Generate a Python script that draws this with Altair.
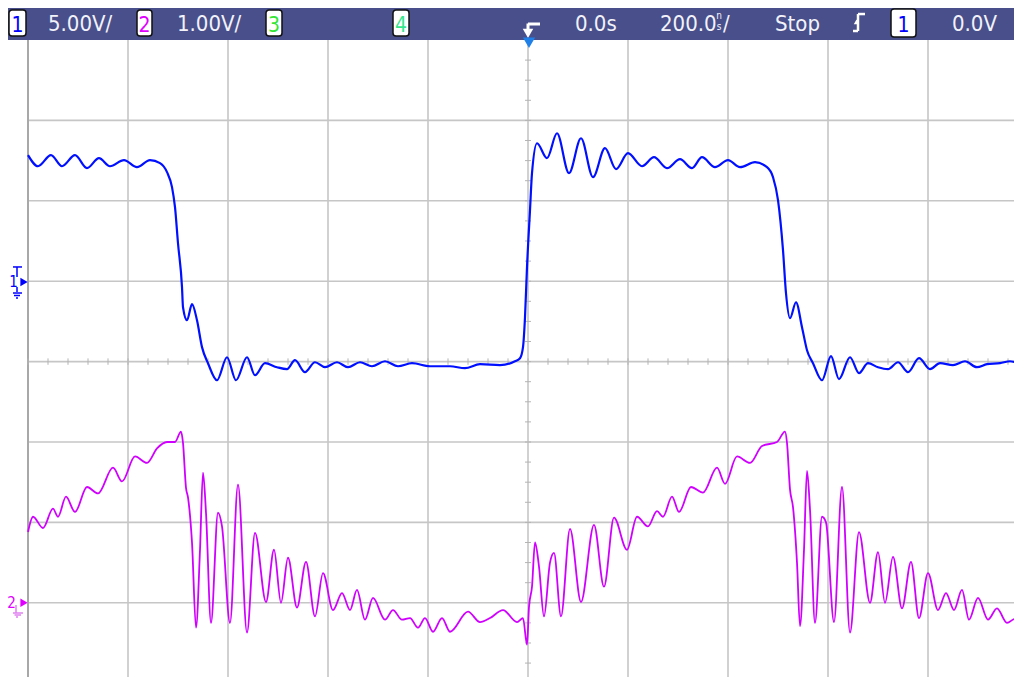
import altair as alt
import pandas as pd

# ---------------- waveform data (time in ns, voltage in V) ----------------
# Channel 1: 5.00 V/div, ground marker one division above centre
BLUE_T = [-1000, -980, -954, -932, -906, -882, -858, -836, -808, -782, -756, -736, -722, -712,
          -706, -700, -692, -690, -682, -672, -662, -652, -640, -622, -602, -584, -562, -546,
          -526, -502, -482, -466, -446, -426, -406, -382, -360, -336, -312, -286, -260, -232,
          -196, -156, -126, -96, -56, -26, -16, -10, -6, -2, 4, 8, 18, 38, 58, 82, 106, 130,
          154, 176, 200, 228, 252, 278, 304, 328, 348, 374, 400, 424, 454, 478, 490, 500, 510,
          516, 524, 536, 548, 558, 570, 588, 606, 622, 644, 662, 680, 700, 720, 740, 760, 782,
          804, 824, 850, 874, 898, 918, 944, 964, 988]
BLUE_V = [7.84, 7.15, 7.84, 7.15, 7.84, 7.03, 7.65, 7.15, 7.53, 7.09, 7.53, 7.34, 6.78, 5.85,
          4.60, 2.36, -0.37, -1.62, -2.43, -1.43, -2.43, -4.10, -5.10, -6.16, -4.73, -6.16,
          -4.73, -5.85, -5.10, -5.35, -5.47, -4.91, -5.66, -5.04, -5.35, -5.04, -5.35, -5.04,
          -5.29, -4.98, -5.29, -5.10, -5.29, -5.29, -5.41, -5.16, -5.22, -4.98, -4.79, -4.10,
          -2.24, 0.87, 4.42, 6.72, 8.58, 7.65, 9.20, 6.72, 8.89, 6.47, 8.27, 6.97, 7.96, 7.15,
          7.71, 7.03, 7.59, 7.03, 7.71, 7.09, 7.53, 7.09, 7.40, 7.09, 6.47, 5.04, 1.93, -0.75,
          -2.30, -1.31, -2.86, -4.29, -5.10, -6.16, -4.66, -6.09, -4.73, -5.72, -5.10, -5.35,
          -5.47, -5.04, -5.66, -4.79, -5.47, -5.10, -5.22, -4.98, -5.35, -5.16, -5.10, -4.98,
          -5.16]

# Channel 2: 1.00 V/div, ground marker three divisions below centre
MAG_T = [-1000, -990, -970, -950, -940, -924, -906, -882, -860, -830, -812, -786, -762, -742,
         -722, -706, -694, -690, -684, -680, -672, -664, -656, -650, -644, -634, -620, -612,
         -596, -580, -562, -546, -524, -508, -494, -480, -462, -444, -426, -410, -390, -372,
         -356, -342, -326, -310, -286, -270, -252, -236, -220, -206, -190, -172, -156, -120,
         -96, -76, -50, -22, -10, -2, 2, 8, 14, 22, 32, 44, 52, 66, 84, 106, 132, 152, 172,
         198, 218, 240, 258, 270, 288, 302, 326, 350, 378, 394, 418, 444, 468, 498, 514, 518,
         524, 530, 538, 544, 552, 558, 564, 574, 588, 596, 612, 628, 644, 662, 684, 700, 714,
         730, 748, 766, 782, 800, 820, 836, 852, 868, 882, 900, 920, 938, 958, 974, 988]
MAG_V = [0.88, 1.07, 0.93, 1.17, 1.07, 1.32, 1.13, 1.44, 1.36, 1.68, 1.51, 1.82, 1.74, 1.92,
         2.00, 2.00, 2.13, 1.99, 1.43, 1.31, 0.75, -0.31, 0.66, 1.62, 1.12, -0.25, 1.12, 0.95,
         -0.25, 1.47, -0.37, 0.87, 0.01, 0.66, 0.00, 0.56, -0.06, 0.51, -0.17, 0.37, -0.09,
         0.12, -0.09, 0.16, -0.21, 0.06, -0.21, -0.09, -0.21, -0.19, -0.31, -0.19, -0.36,
         -0.19, -0.36, -0.11, -0.24, -0.19, -0.09, -0.24, -0.19, -0.52, -0.05, 0.20, 0.75,
         0.45, -0.17, 0.50, 0.62, -0.17, 0.92, 0.01, 0.97, 0.20, 1.06, 0.66, 1.07, 0.95, 1.14,
         1.07, 1.32, 1.13, 1.44, 1.37, 1.68, 1.48, 1.82, 1.74, 1.95, 2.00, 2.13, 1.99, 1.41,
         1.19, 0.50, -0.29, 0.66, 1.64, 1.16, -0.25, 1.07, 1.00, -0.24, 1.44, -0.37, 0.88,
         0.00, 0.63, 0.00, 0.57, -0.07, 0.51, -0.19, 0.37, -0.09, 0.12, -0.09, 0.16, -0.21,
         0.06, -0.21, -0.07, -0.25, -0.20, -0.30]

CH1_VDIV, CH1_OFFSET = 5.0, 1.0
CH2_VDIV, CH2_OFFSET = 1.0, -3.0

# graticule (200 ns/div horizontally, divisions vertically)
GRID_T = [-1000, -800, -600, -400, -200, 0, 200, 400, 600, 800]
GRID_DIV = [-3, -2, -1, 0, 1, 2, 3]
MINOR_T = list(range(-1000, 1000, 40))
MINOR_DIV = [d / 4 for d in range(-15, 16)]

# status bar
HEADER_TEXT = ["5.00V/", "1.00V/", "0.0s", "200.0", "/", "Stop", "0.0V"]
HEADER_T = [-960, -702, 94, 264, 390, 494, 848]
SMALL_TEXT = ["n", "s"]
SMALL_T = [382, 382]
SMALL_D = [4.255, 4.130]
BOX_LABEL = ["1", "2", "3", "4", "1"]
BOX_COLOR = ["#0000ff", "#e000ff", "#33e633", "#33e68c", "#0000ff"]
BOX_T1 = [-1038, -782, -524, -270, 726]
BOX_T2 = [-1004, -752, -492, -238, 776]
BOX_D1 = [4.373, 4.373, 4.373, 4.373, 4.386]
BOX_D2 = [4.050, 4.050, 4.050, 4.050, 4.037]

W, H = 1006, 669
X_DOMAIN = [-1040, -1040 + 2 * W]
Y_DOMAIN = [-3.923, 4.398]
FONT = "DejaVu Sans Condensed, Liberation Sans Narrow, DejaVu Sans, sans-serif"
GRID_COL = "#c6c6c6"
HEAD_COL = "#484f8a"

xs = alt.Scale(domain=X_DOMAIN, nice=False, zero=False)
ys = alt.Scale(domain=Y_DOMAIN, nice=False, zero=False)


def X(f):
    return alt.X(f, type="quantitative", scale=xs, axis=None)


def Y(f):
    return alt.Y(f, type="quantitative", scale=ys, axis=None)


layers = []

# vertical grid lines
vg = pd.DataFrame({"t": GRID_T[1:], "d1": Y_DOMAIN[0], "d2": 4.0})
layers.append(alt.Chart(vg).mark_rule(color=GRID_COL, strokeWidth=1.6).encode(
    x=X("t"), y=Y("d1"), y2="d2"))
# horizontal grid lines
hg = pd.DataFrame({"d": GRID_DIV, "t1": -1000, "t2": X_DOMAIN[1]})
layers.append(alt.Chart(hg).mark_rule(color=GRID_COL, strokeWidth=1.6).encode(
    y=Y("d"), x=X("t1"), x2="t2"))
# left frame line
lf = pd.DataFrame({"t": [-1000], "d1": [Y_DOMAIN[0]], "d2": [4.0]})
layers.append(alt.Chart(lf).mark_rule(color="#a8a8a8", strokeWidth=2).encode(
    x=X("t"), y=Y("d1"), y2="d2"))
# minor ticks on centre axes
mt = pd.DataFrame({"t": MINOR_T, "d1": -0.04, "d2": 0.04})
layers.append(alt.Chart(mt).mark_rule(color="#b4b4b4", strokeWidth=1).encode(
    x=X("t"), y=Y("d1"), y2="d2"))
md = pd.DataFrame({"d": MINOR_DIV, "t1": -6, "t2": 6})
layers.append(alt.Chart(md).mark_rule(color="#b4b4b4", strokeWidth=1).encode(
    y=Y("d"), x=X("t1"), x2="t2"))

# traces
blue = pd.DataFrame({"t": BLUE_T, "d": [v / CH1_VDIV + CH1_OFFSET for v in BLUE_V],
                     "i": list(range(len(BLUE_T)))})
mag = pd.DataFrame({"t": MAG_T, "d": [v / CH2_VDIV + CH2_OFFSET for v in MAG_V],
                    "i": list(range(len(MAG_T)))})
layers.append(alt.Chart(mag).mark_line(color="#d000ff", strokeWidth=1.8, clip=True,
                                       interpolate="monotone").encode(
    x=X("t"), y=Y("d"), order="i:Q"))
layers.append(alt.Chart(blue).mark_line(color="#0010ff", strokeWidth=2.2, clip=True,
                                        interpolate="monotone").encode(
    x=X("t"), y=Y("d"), order="i:Q"))

# status bar
hb = pd.DataFrame({"t1": [X_DOMAIN[0]], "t2": [X_DOMAIN[1]], "d1": [4.0], "d2": [Y_DOMAIN[1]]})
layers.append(alt.Chart(hb).mark_rect(color=HEAD_COL).encode(
    x=X("t1"), x2="t2", y=Y("d1"), y2="d2"))
bx = pd.DataFrame({"t1": BOX_T1, "t2": BOX_T2, "d1": BOX_D1, "d2": BOX_D2,
                   "tc": [(a + b) / 2 for a, b in zip(BOX_T1, BOX_T2)],
                   "lab": BOX_LABEL, "col": BOX_COLOR})
layers.append(alt.Chart(bx).mark_rect(fill="white", stroke="#111111", strokeWidth=1.5,
                                      cornerRadius=3).encode(
    x=X("t1"), x2="t2", y=Y("d1"), y2="d2"))
layers.append(alt.Chart(bx).mark_text(font=FONT, fontSize=21, baseline="alphabetic",
                                      align="center").encode(
    x=X("tc"), y=alt.Y("ty:Q", scale=ys, axis=None), text="lab:N",
    color=alt.Color("col:N", scale=None)).transform_calculate(ty="4.096"))
ht = pd.DataFrame({"t": HEADER_T, "lab": HEADER_TEXT, "d": 4.118})
layers.append(alt.Chart(ht).mark_text(font=FONT, fontSize=22, baseline="alphabetic",
                                      align="left", color="#f2f2fa").encode(
    x=X("t"), y=Y("d"), text="lab:N"))
st = pd.DataFrame({"t": SMALL_T, "lab": SMALL_TEXT, "d": SMALL_D})
layers.append(alt.Chart(st).mark_text(font=FONT, fontSize=10, baseline="alphabetic",
                                      align="center", color="#f2f2fa").encode(
    x=X("t"), y=Y("d"), text="lab:N"))

# trigger position icon (white bent arrow) and blue marker
tr = pd.DataFrame({"t1": [0, 0], "t2": [24, 0], "d1": [4.199, 4.205], "d2": [4.199, 4.115]})
layers.append(alt.Chart(tr).mark_rule(color="white", strokeWidth=3).encode(
    x=X("t1"), x2="t2", y=Y("d1"), y2="d2"))
ta = pd.DataFrame({"t": [0], "d": [4.082]})
layers.append(alt.Chart(ta).mark_point(shape="triangle-down", filled=True, size=110,
                                       color="white", opacity=1).encode(x=X("t"), y=Y("d")))
tm = pd.DataFrame({"t": [2], "d": [3.965]})
layers.append(alt.Chart(tm).mark_point(shape="triangle-down", filled=True, size=150,
                                       color="#1f80e8", opacity=1).encode(x=X("t"), y=Y("d")))

# trigger slope symbol
ed = pd.DataFrame({"t1": [650, 660, 660], "t2": [660, 660, 674],
                   "d1": [4.112, 4.112, 4.323], "d2": [4.112, 4.323, 4.323]})
layers.append(alt.Chart(ed).mark_rule(color="white", strokeWidth=2.5).encode(
    x=X("t1"), x2="t2", y=Y("d1"), y2="d2"))
ea = pd.DataFrame({"t": [657], "d": [4.225]})
layers.append(alt.Chart(ea).mark_point(shape="triangle-up", filled=True, size=30,
                                       color="white", opacity=1).encode(x=X("t"), y=Y("d")))

# channel ground markers on the left edge
gm = pd.DataFrame({
    "t1": [-1030, -1022, -1022, -1030, -1028, -1024,
           -1024, -1030, -1027, -1024],
    "t2": [-1012, -1022, -1022, -1012, -1016, -1020,
           -1024, -1010, -1014, -1020],
    "d1": [1.177, 1.177, 0.928, 0.853, 0.822, 0.791,
           -3.027, -3.127, -3.152, -3.177],
    "d2": [1.177, 1.052, 0.866, 0.853, 0.822, 0.791,
           -3.127, -3.127, -3.152, -3.177],
    "col": ["#0000ff"] * 6 + ["#e080f0"] * 4})
layers.append(alt.Chart(gm).mark_rule(strokeWidth=1.5).encode(
    x=X("t1"), x2="t2", y=Y("d1"), y2="d2", color=alt.Color("col:N", scale=None)))
gt = pd.DataFrame({"t": [-1008, -1008], "d": [0.99, -3.0], "col": ["#0000ff", "#e000ff"]})
layers.append(alt.Chart(gt).mark_point(shape="triangle-right", filled=True, size=70,
                                       opacity=1).encode(
    x=X("t"), y=Y("d"), color=alt.Color("col:N", scale=None)))
gl = pd.DataFrame({"t": [-1029, -1033], "d": [0.93, -3.07], "lab": ["1", "2"],
                   "col": ["#0000ff", "#e000ff"]})
layers.append(alt.Chart(gl).mark_text(font=FONT, fontSize=15, baseline="alphabetic",
                                      align="center").encode(
    x=X("t"), y=Y("d"), text="lab:N", color=alt.Color("col:N", scale=None)))

chart = alt.layer(*layers).properties(
    width=W, height=H, padding=0, autosize="none", background="white"
).configure_view(stroke=None)

chart.save("out.html", embed_options={"renderer": "svg", "actions": False})
